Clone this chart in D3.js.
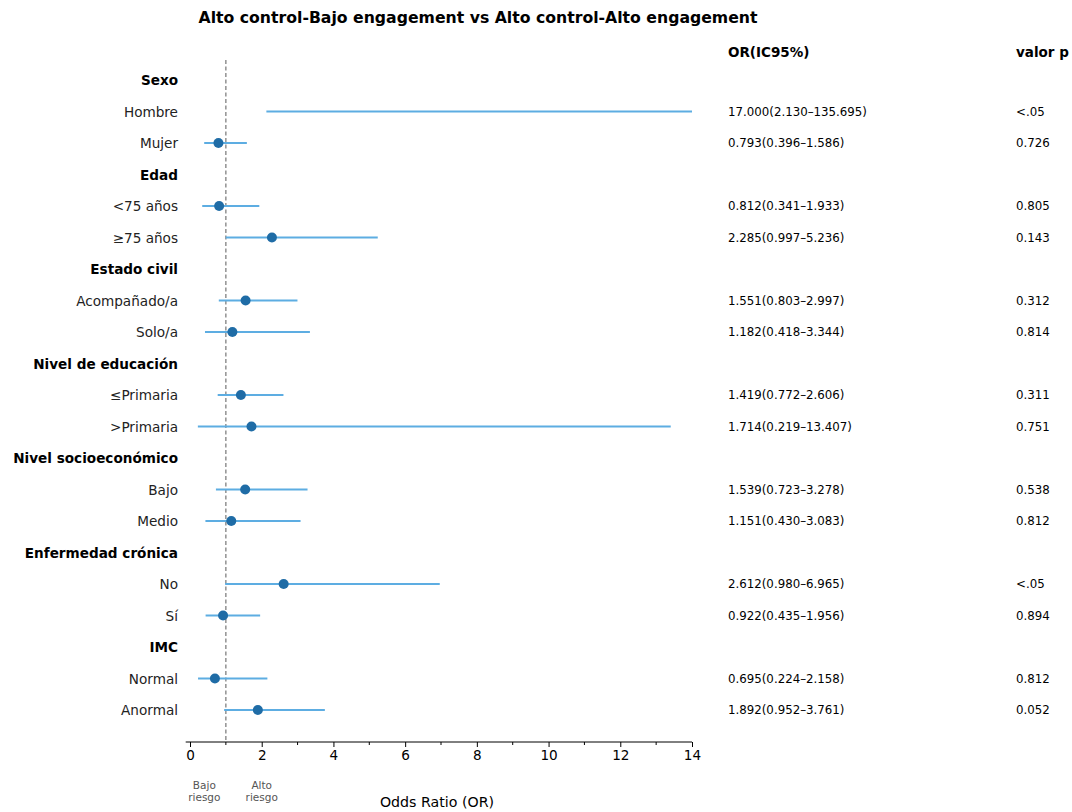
<!DOCTYPE html>
<html>
  <head>
    <meta charset="utf-8">
    <style>
      body { margin: 0; background-color: white; }
      text { font-family: "DejaVu Sans", sans-serif; }
    </style>
    <script src="https://d3js.org/d3.v7.min.js"></script>
  </head>
  <body>
    <script>
    // rows top to bottom; header rows have null values
    var labels = ["Sexo", "Hombre", "Mujer", "Edad", "<75 años", "≥75 años",
      "Estado civil", "Acompañado/a", "Solo/a", "Nivel de educación", "≤Primaria", ">Primaria",
      "Nivel socioeconómico", "Bajo", "Medio", "Enfermedad crónica", "No", "Sí",
      "IMC", "Normal", "Anormal"]
    var isHeader = [1,0,0,1,0,0,1,0,0,1,0,0,1,0,0,1,0,0,1,0,0]
    var orValues = [null, 17.000, 0.793, null, 0.812, 2.285, null, 1.551, 1.182, null, 1.419, 1.714,
      null, 1.539, 1.151, null, 2.612, 0.922, null, 0.695, 1.892]
    var ciLow = [null, 2.130, 0.396, null, 0.341, 0.997, null, 0.803, 0.418, null, 0.772, 0.219,
      null, 0.723, 0.430, null, 0.980, 0.435, null, 0.224, 0.952]
    var ciHigh = [null, 135.695, 1.586, null, 1.933, 5.236, null, 2.997, 3.344, null, 2.606, 13.407,
      null, 3.278, 3.083, null, 6.965, 1.956, null, 2.158, 3.761]
    var pValues = [null, "<.05", "0.726", null, "0.805", "0.143", null, "0.312", "0.814", null, "0.311", "0.751",
      null, "0.538", "0.812", null, "<.05", "0.894", null, "0.812", "0.052"]
    var xTicks = [0, 2, 4, 6, 8, 10, 12, 14]
    var xMinor = [1, 3, 5, 7, 9, 11, 13]

    var width = 1072, height = 812;
    var fmt = d3.format(".3f")

    var svg = d3.select("body").append("svg")
      .attr("width", width)
      .attr("height", height)

    var x = d3.scaleLinear().domain([-0.12, 14]).range([185.7, 692])
    var y = d3.scaleLinear().domain([0, labels.length - 1]).range([80, 710])

    svg.append("text")
      .attr("x", 478).attr("y", 23)
      .attr("text-anchor", "middle")
      .attr("font-size", 15.7).attr("font-weight", "bold")
      .text("Alto control-Bajo engagement vs Alto control-Alto engagement")

    svg.append("text").attr("x", 728).attr("y", 57)
      .attr("font-size", 13.5).attr("font-weight", "bold").text("OR(IC95%)")
    svg.append("text").attr("x", 1016).attr("y", 57)
      .attr("font-size", 13.5).attr("font-weight", "bold").text("valor p")

    // reference line at OR = 1
    svg.append("line")
      .attr("x1", x(1)).attr("x2", x(1))
      .attr("y1", 60).attr("y2", 742)
      .attr("stroke", "#808080").attr("stroke-width", 1.3)
      .attr("stroke-dasharray", "4,2.5")

    var rows = svg.append("g").selectAll("g")
      .data(labels.map(function(d, i) { return i; }))
      .enter().append("g")

    rows.append("text")
      .attr("x", 178)
      .attr("y", function(i) { return y(i) + 5; })
      .attr("text-anchor", "end")
      .attr("font-size", 13.6)
      .attr("font-weight", function(i) { return isHeader[i] ? "bold" : "normal"; })
      .attr("fill", function(i) { return isHeader[i] ? "#000" : "#222"; })
      .text(function(i) { return labels[i]; })

    var dataRows = rows.filter(function(i) { return !isHeader[i]; })

    dataRows.append("line")
      .attr("x1", function(i) { return x(Math.max(ciLow[i], -0.12)); })
      .attr("x2", function(i) { return x(Math.min(ciHigh[i], 14)); })
      .attr("y1", function(i) { return y(i); })
      .attr("y2", function(i) { return y(i); })
      .attr("stroke", "#5dade2").attr("stroke-width", 2)

    dataRows.filter(function(i) { return orValues[i] <= 14; })
      .append("circle")
      .attr("cx", function(i) { return x(orValues[i]); })
      .attr("cy", function(i) { return y(i); })
      .attr("r", 5)
      .attr("fill", "#1f6ca6")

    dataRows.append("text")
      .attr("x", 728)
      .attr("y", function(i) { return y(i) + 4; })
      .attr("font-size", 11.8)
      .text(function(i) { return fmt(orValues[i]) + "(" + fmt(ciLow[i]) + "–" + fmt(ciHigh[i]) + ")"; })

    dataRows.append("text")
      .attr("x", 1016)
      .attr("y", function(i) { return y(i) + 4; })
      .attr("font-size", 11.8)
      .text(function(i) { return pValues[i]; })

    // x axis
    var axis = svg.append("g")
      .attr("transform", "translate(0,742)")
      .call(d3.axisBottom(x).tickValues(xTicks).tickSize(5).tickPadding(3))
    axis.selectAll("text").attr("font-size", 13.6).attr("fill", "#000")
      .style("font-family", "DejaVu Sans, sans-serif")
    axis.select(".domain").attr("d", "M" + x(-0.12) + ",0H" + x(14)).attr("stroke", "#000")
    svg.append("g")
      .attr("transform", "translate(0,742)")
      .selectAll("line").data(xMinor).enter().append("line")
      .attr("x1", function(d) { return x(d); }).attr("x2", function(d) { return x(d); })
      .attr("y1", 0).attr("y2", 3).attr("stroke", "#000")

    var riskLabels = [["Bajo", "riesgo", 0.4], ["Alto", "riesgo", 2]]
    riskLabels.forEach(function(r) {
      var t = svg.append("text")
        .attr("text-anchor", "middle").attr("font-size", 10.5).attr("fill", "#555")
      t.append("tspan").attr("x", x(r[2])).attr("y", 789).text(r[0])
      t.append("tspan").attr("x", x(r[2])).attr("y", 801).text(r[1])
    })

    svg.append("text")
      .attr("x", 437).attr("y", 807)
      .attr("text-anchor", "middle").attr("font-size", 14.2)
      .text("Odds Ratio (OR)")
    </script>
  </body>
</html>
